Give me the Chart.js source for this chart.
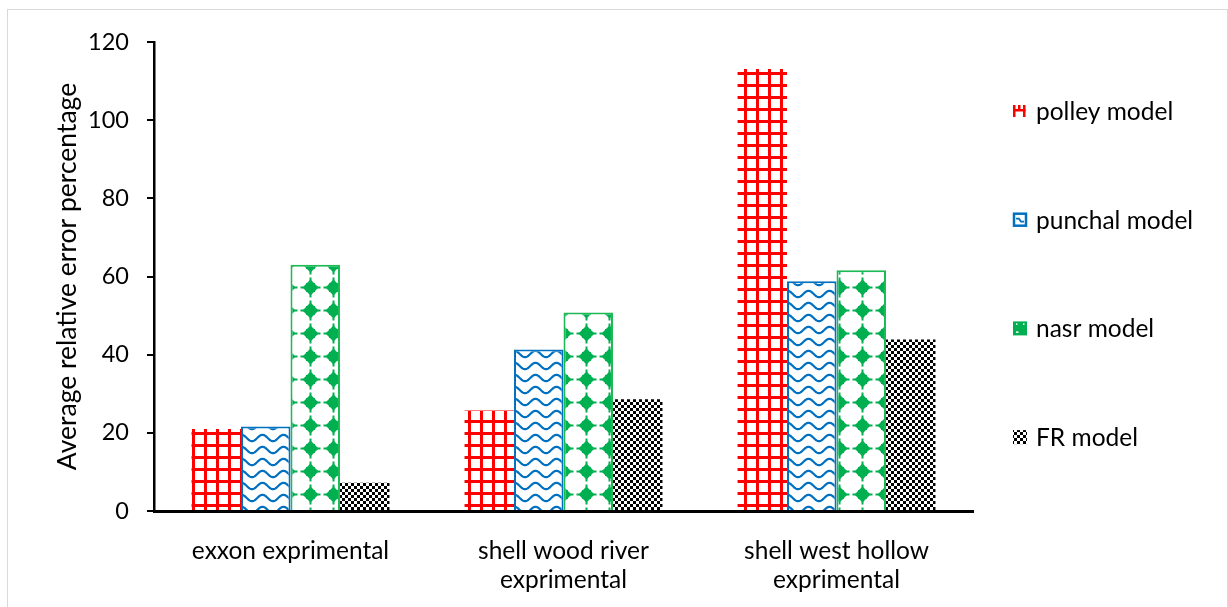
<!DOCTYPE html>
<html>
<head>
<meta charset="utf-8">
<script src="https://cdn.jsdelivr.net/npm/chart.js@4.4.1/dist/chart.umd.min.js"></script>
<style>
html,body{margin:0;padding:0;background:#fff;}
#wrap{width:1228px;height:607px;position:relative;}
</style>
</head>
<body>
<div id="wrap"><canvas id="c" width="1228" height="607"></canvas></div>
<script>
const categories = [
  ["exxon exprimental"],
  ["shell wood river", "exprimental"],
  ["shell west hollow", "exprimental"]
];
const seriesNames = ["polley model", "punchal model", "nasr model", "FR model"];
const polley = [21.0, 25.7, 113.1];
const punchal = [21.6, 41.3, 58.8];
const nasr = [63.0, 50.8, 61.6];
const fr = [7.2, 28.6, 43.9];
const yTicks = [0, 20, 40, 60, 80, 100, 120];

const RED = '#FF0000', BLUE = '#0070C0', GREEN = '#00B050';
const canvas = document.getElementById('c');
const ctx0 = canvas.getContext('2d');

function makePattern(w, h, draw) {
  const c = document.createElement('canvas');
  c.width = w; c.height = h;
  const x = c.getContext('2d');
  x.fillStyle = '#fff'; x.fillRect(0, 0, w, h);
  draw(x, w, h);
  return ctx0.createPattern(c, 'repeat');
}
const polleyPat = makePattern(12, 12, (x) => {
  x.fillStyle = RED;
  x.fillRect(0, 0, 12, 3);
  x.fillRect(0, 0, 3, 12);
});
const punchalPat = makePattern(21, 12, (x, w) => {
  x.strokeStyle = BLUE; x.lineWidth = 2.2;
  x.beginPath();
  for (let i = -2; i <= w + 2; i += 0.5) {
    const yy = 6 + 3.2 * Math.cos(2 * Math.PI * i / w);
    if (i === -2) x.moveTo(i, yy); else x.lineTo(i, yy);
  }
  x.stroke();
});
const nasrPat = makePattern(23, 23, (x) => {
  x.fillStyle = GREEN;
  const cx = 11.5, cy = 11.5, r = 8;
  x.beginPath();
  x.moveTo(cx, cy - r); x.lineTo(cx + r, cy); x.lineTo(cx, cy + r); x.lineTo(cx - r, cy); x.closePath();
  x.fill();
  x.fillRect(cx - 4.5, cy - 4.5, 9, 9);
  x.fillRect(cx - 1, cy - 10, 2, 20);
  x.fillRect(cx - 10, cy - 1, 20, 2);
});
const frPat = makePattern(6, 6, (x) => {
  x.fillStyle = '#000';
  x.fillRect(0, 0, 3, 3);
  x.fillRect(3, 3, 3, 3);
});

const FONT = 'Lato';

const legendPlugin = {
  id: 'customLegend',
  afterDraw(chart) {
    const ctx = chart.ctx;
    const a = chart.chartArea;
    const x0 = a.right + 40;
    const top = a.top + 69, step = 108.7;
    chart.data.datasets.forEach((ds, i) => {
      const cy = top + i * step;
      ctx.save();
      if (i === 0) {
        ctx.fillStyle = RED;
        ctx.fillRect(x0, cy - 6, 2.5, 12);
        ctx.fillRect(x0 + 10, cy - 6, 2.5, 12);
        ctx.fillRect(x0, cy - 2, 12.5, 2.5);
        ctx.fillRect(x0 + 5, cy - 6, 2.5, 4);
      } else if (i === 1) {
        ctx.fillStyle = '#fff'; ctx.fillRect(x0, cy - 7, 14, 14);
        ctx.strokeStyle = BLUE; ctx.lineWidth = 2.5;
        ctx.strokeRect(x0 + 1, cy - 6, 12, 12);
        ctx.beginPath(); ctx.moveTo(x0 + 3, cy - 1); ctx.lineTo(x0 + 6, cy - 1); ctx.lineTo(x0 + 8, cy + 2); ctx.lineTo(x0 + 11, cy + 2);
        ctx.lineWidth = 1.8; ctx.stroke();
      } else if (i === 2) {
        ctx.fillStyle = GREEN; ctx.fillRect(x0, cy - 7, 14, 14);
        ctx.fillStyle = '#fff';
        ctx.fillRect(x0 + 3, cy - 5, 1.5, 1.5);
        ctx.fillRect(x0 + 10, cy - 5, 1.5, 1.5);
        ctx.fillRect(x0 + 3, cy + 3, 2.5, 1.5);
      } else {
        ctx.fillStyle = frPat; ctx.fillRect(x0, cy - 7, 14, 14);
      }
      ctx.fillStyle = '#000';
      ctx.font = '24.5px ' + FONT;
      ctx.textBaseline = 'middle';
      ctx.textAlign = 'left';
      ctx.fillText(ds.label, x0 + 23, cy + 1);
      ctx.restore();
    });
  }
};
const framePlugin = {
  id: 'frame',
  beforeDraw(chart) {
    const ctx = chart.ctx;
    ctx.save();
    ctx.fillStyle = '#fff'; ctx.fillRect(0, 0, chart.width, chart.height);
    ctx.strokeStyle = '#d9d9d9'; ctx.lineWidth = 1;
    ctx.strokeRect(7.5, 9.5, 1220, 600);
    ctx.restore();
  }
};

new Chart(canvas, {
  type: 'bar',
  data: {
    labels: categories,
    datasets: [
      { label: seriesNames[0], data: polley, backgroundColor: polleyPat, borderWidth: 0 },
      { label: seriesNames[1], data: punchal, backgroundColor: punchalPat, borderColor: BLUE, borderWidth: 2 },
      { label: seriesNames[2], data: nasr, backgroundColor: nasrPat, borderColor: '#1DB954', borderWidth: 2 },
      { label: seriesNames[3], data: fr, backgroundColor: frPat, borderWidth: 0 }
    ]
  },
  options: {
    responsive: false,
    animation: false,
    devicePixelRatio: 1,
    layout: { padding: { left: 52, right: 255, top: 42, bottom: 10 } },
    datasets: { bar: { categoryPercentage: 0.725, barPercentage: 1.0 } },
    plugins: { legend: { display: false }, tooltip: { enabled: false } },
    scales: {
      x: {
        grid: { display: false },
        border: { display: true, color: '#000', width: 3 },
        ticks: { color: '#000', font: { family: FONT, size: 24.5, lineHeight: 1.2 }, padding: 17, maxRotation: 0, autoSkip: false },
        afterFit(scale) { scale.height = 86; }
      },
      y: {
        min: 0, max: 120,
        afterBuildTicks(scale) { scale.ticks = yTicks.map(v => ({ value: v })); },
        grid: { drawOnChartArea: false, drawTicks: true, tickLength: 7, color: '#000', lineWidth: 2 },
        border: { display: true, color: '#000', width: 2.5 },
        ticks: { color: '#000', font: { family: FONT, size: 23.5 }, padding: 18 },
        title: { display: true, text: 'Average relative error percentage', color: '#000', font: { family: FONT, size: 26.5 }, padding: { top: 0, bottom: 6 } },
        afterFit(scale) { scale.width = 102; }
      }
    }
  },
  plugins: [framePlugin, legendPlugin]
});
</script>
</body>
</html>
